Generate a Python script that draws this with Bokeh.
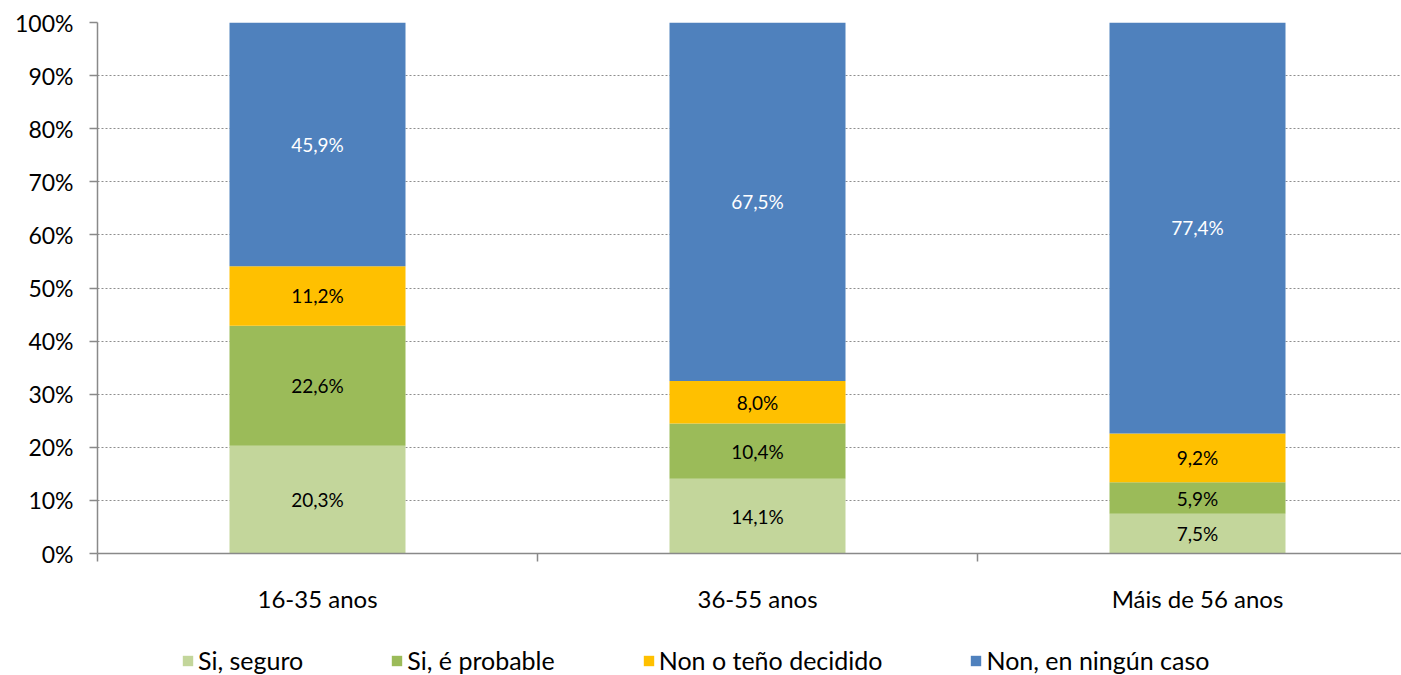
from bokeh.plotting import figure
from bokeh.layouts import column
from bokeh.models import (ColumnDataSource, Range1d, FixedTicker, NumeralTickFormatter,
                          Legend, LegendItem)
from bokeh.core.properties import value
from bokeh.embed import file_html
from bokeh.resources import INLINE

# ---- data ----
categories = ["16-35 anos", "36-55 anos", "Máis de 56 anos"]
series_names = ["Si, seguro", "Si, é probable", "Non o teño decidido", "Non, en ningún caso"]
si_seguro = [20.3, 14.1, 7.5]
si_probable = [22.6, 10.4, 5.9]
non_decidido = [11.2, 8.0, 9.2]
non_ningun = [45.9, 67.5, 77.4]
y_ticks = [0, 0.1, 0.2, 0.3, 0.4, 0.5, 0.6, 0.7, 0.8, 0.9, 1.0]

colors = ["#C3D69B", "#9BBB59", "#FFC000", "#4F81BD"]
label_colors = ["#000000", "#000000", "#000000", "#FFFFFF"]
FONT = "Lato"

series = [si_seguro, si_probable, non_decidido, non_ningun]
keys = ["s0", "s1", "s2", "s3"]
xs = [i + 0.5 for i in range(len(categories))]
data = {"x": xs}
for k, s in zip(keys, series):
    data[k] = [v / 100.0 for v in s]
source = ColumnDataSource(data)

H1 = 615
H2 = 60
p = figure(width=1401, height=H1, output_backend="svg", toolbar_location=None,
           x_range=Range1d(0, 1304 / 440), y_range=Range1d(0, 1),
           min_border_left=97, min_border_right=0, min_border_top=22, min_border_bottom=H1 - 557)
p.outline_line_color = None
p.background_fill_color = "white"
p.border_fill_color = "white"

renderers = p.vbar_stack(keys, x="x", width=0.4, source=source, color=colors, line_color=None)

# data labels
lab_x, lab_y, lab_t, lab_c = [], [], [], []
for i in range(len(categories)):
    base = 0.0
    for j, s in enumerate(series):
        v = s[i] / 100.0
        lab_x.append(xs[i])
        lab_y.append(base + v / 2)
        lab_t.append(f"{s[i]:.1f}".replace(".", ",") + "%")
        lab_c.append(label_colors[j])
        base += v
lsrc = ColumnDataSource(dict(x=lab_x, y=lab_y, t=lab_t, c=lab_c))
p.text(x="x", y="y", text="t", text_color="c", source=lsrc, text_align="center",
       text_baseline="middle", text_font=value(FONT), text_font_size="19px")

# axes
axis_color = "#898989"
p.xgrid.grid_line_color = None
p.ygrid.grid_line_color = "#8E8E8E"
p.ygrid.grid_line_dash = "2 2"
p.ygrid.grid_line_width = 1

p.yaxis.ticker = FixedTicker(ticks=y_ticks)
p.yaxis.formatter = NumeralTickFormatter(format="0%")
p.yaxis.axis_line_color = axis_color
p.yaxis.axis_line_width = 1.5
p.yaxis.major_tick_line_color = axis_color
p.yaxis.major_tick_line_width = 1.5
p.yaxis.major_tick_out = 8
p.yaxis.major_tick_in = 0
p.yaxis.minor_tick_line_color = None
p.yaxis.major_label_standoff = 16
p.yaxis.major_label_text_font = FONT
p.yaxis.major_label_text_font_size = "23px"
p.yaxis.major_label_text_color = "#000000"

p.xaxis.ticker = FixedTicker(ticks=xs, minor_ticks=[0, 1, 2, 3])
p.xaxis.major_label_overrides = {x: c for x, c in zip(xs, categories)}
p.xaxis.axis_line_color = axis_color
p.xaxis.axis_line_width = 1.5
p.xaxis.major_tick_out = 0
p.xaxis.major_tick_in = 0
p.xaxis.major_tick_line_color = None
p.xaxis.minor_tick_out = 8
p.xaxis.minor_tick_in = 0
p.xaxis.minor_tick_line_color = axis_color
p.xaxis.minor_tick_line_width = 1.5
p.xaxis.major_label_standoff = 22
p.xaxis.major_label_text_font = FONT
p.xaxis.major_label_text_font_size = "24px"
p.xaxis.major_label_text_color = "#000000"

# legend in its own strip below the chart (frames are aligned with the chart above)
pl = figure(width=1401, height=H2, output_backend="svg", toolbar_location=None,
            x_range=Range1d(0, 1), y_range=Range1d(0, 1), min_border=0)
pl.axis.visible = False
pl.grid.grid_line_color = None
pl.outline_line_color = None
proxies = pl.vbar_stack(keys, x="x", width=0.4, source=source, color=colors, line_color=None)
for r in proxies:
    r.visible = False
legend = Legend(items=[LegendItem(label=n, renderers=[r]) for n, r in zip(series_names, proxies)],
                location=(84, 0), orientation="horizontal")
legend.glyph_width = 13
legend.glyph_height = 13
legend.label_standoff = 4
legend.spacing = 87
legend.padding = 0
legend.margin = 0
legend.border_line_color = None
legend.background_fill_alpha = 0
legend.inactive_fill_alpha = 0
legend.label_text_font = FONT
legend.label_text_font_size = "25px"
legend.label_text_color = "#000000"
pl.add_layout(legend)

layout = column(p, pl, spacing=0)
open("out.html", "w").write(file_html(layout, INLINE))
